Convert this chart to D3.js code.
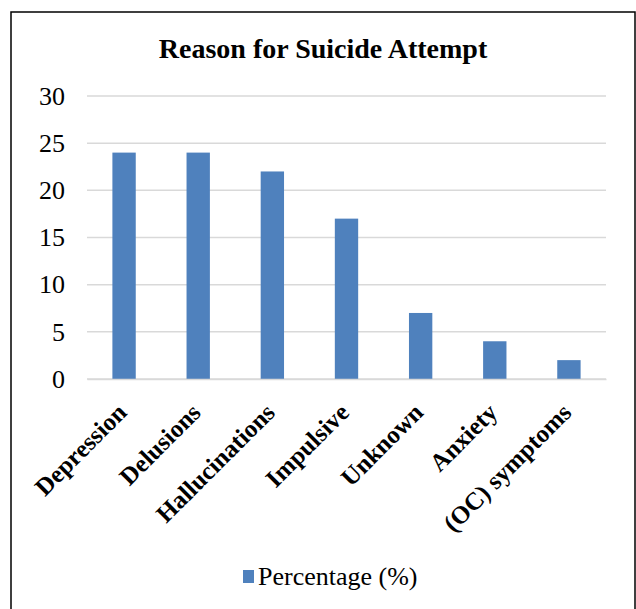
<!DOCTYPE html>
<html>
  <head>
    <meta charset="utf-8" />
    <title>Reason for Suicide Attempt</title>
    <script src="https://d3js.org/d3.v7.min.js"></script>
    <style>
      body {
        margin: 0;
        background: #fff;
      }
      text {
        font-family: "Liberation Serif", "DejaVu Serif", serif;
      }
    </style>
  </head>
  <body>
    <svg id="chart"></svg>

    <script>
      var reasons = ["Depression", "Delusions", "Hallucinations", "Impulsive", "Unknown", "Anxiety", "(OC) symptoms"];
      var percentages = [24, 24, 22, 17, 7, 4, 2];
      var yTicks = [0, 5, 10, 15, 20, 25, 30];
      var seriesName = "Percentage (%)";

      var width = 636;
      var height = 609;
      var margin = { top: 96, right: 30, bottom: 230, left: 87 };

      var svg = d3.select("#chart")
        .attr("width", width)
        .attr("height", height);

      // outer frame
      svg.append("rect")
        .attr("x", 11)
        .attr("y", 12)
        .attr("width", 624)
        .attr("height", 620)
        .attr("fill", "none")
        .attr("stroke", "#000")
        .attr("stroke-width", 1.5);

      var x = d3.scaleBand()
        .domain(reasons)
        .range([margin.left, width - margin.right])
        .paddingInner(0.685)
        .paddingOuter(0.3425);

      var y = d3.scaleLinear()
        .domain([0, 30])
        .range([height - margin.bottom, margin.top]);

      // gridlines
      svg.append("g")
        .selectAll("line")
        .data(yTicks)
        .enter().append("line")
        .attr("x1", margin.left)
        .attr("x2", width - margin.right)
        .attr("y1", function(d) { return y(d); })
        .attr("y2", function(d) { return y(d); })
        .attr("stroke", "#d9d9d9")
        .attr("stroke-width", 1.5);

      // y axis labels
      var yAxis = d3.axisLeft(y).tickValues(yTicks).tickSize(0).tickPadding(22);
      svg.append("g")
        .attr("transform", "translate(" + margin.left + ",0)")
        .call(yAxis)
        .call(function(g) { g.select(".domain").remove(); })
        .selectAll("text")
        .attr("font-size", "26px")
        .attr("font-family", "Liberation Serif")
        .attr("fill", "#000");

      // bars
      svg.append("g")
        .selectAll("rect")
        .data(percentages)
        .enter().append("rect")
        .attr("x", function(d, i) { return x(reasons[i]); })
        .attr("width", x.bandwidth())
        .attr("y", function(d) { return y(d); })
        .attr("height", function(d) { return y(0) - y(d); })
        .attr("fill", "#4f81bd");

      // x axis
      var xAxis = d3.axisBottom(x).tickSize(0).tickPadding(0);
      var xg = svg.append("g")
        .attr("transform", "translate(0," + y(0) + ")")
        .call(xAxis);
      xg.select(".domain")
        .attr("stroke", "#d9d9d9")
        .attr("stroke-width", 1.5);
      xg.selectAll("text")
        .attr("font-size", "25px")
        .attr("font-weight", "bold")
        .attr("font-family", "Liberation Serif")
        .attr("fill", "#000")
        .attr("text-anchor", "end")
        .attr("dy", null)
        .attr("y", 0)
        .attr("transform", "translate(4,35) rotate(-45)");

      // title
      svg.append("text")
        .attr("x", 323)
        .attr("y", 58)
        .attr("text-anchor", "middle")
        .attr("font-size", "28px")
        .attr("font-weight", "bold")
        .text("Reason for Suicide Attempt");

      // legend
      var legend = svg.append("g").attr("transform", "translate(243,570)");
      legend.append("rect")
        .attr("width", 11)
        .attr("height", 13)
        .attr("fill", "#4f81bd");
      legend.append("text")
        .attr("x", 15)
        .attr("y", 15)
        .attr("font-size", "26px")
        .text(seriesName);
    </script>
  </body>
</html>
